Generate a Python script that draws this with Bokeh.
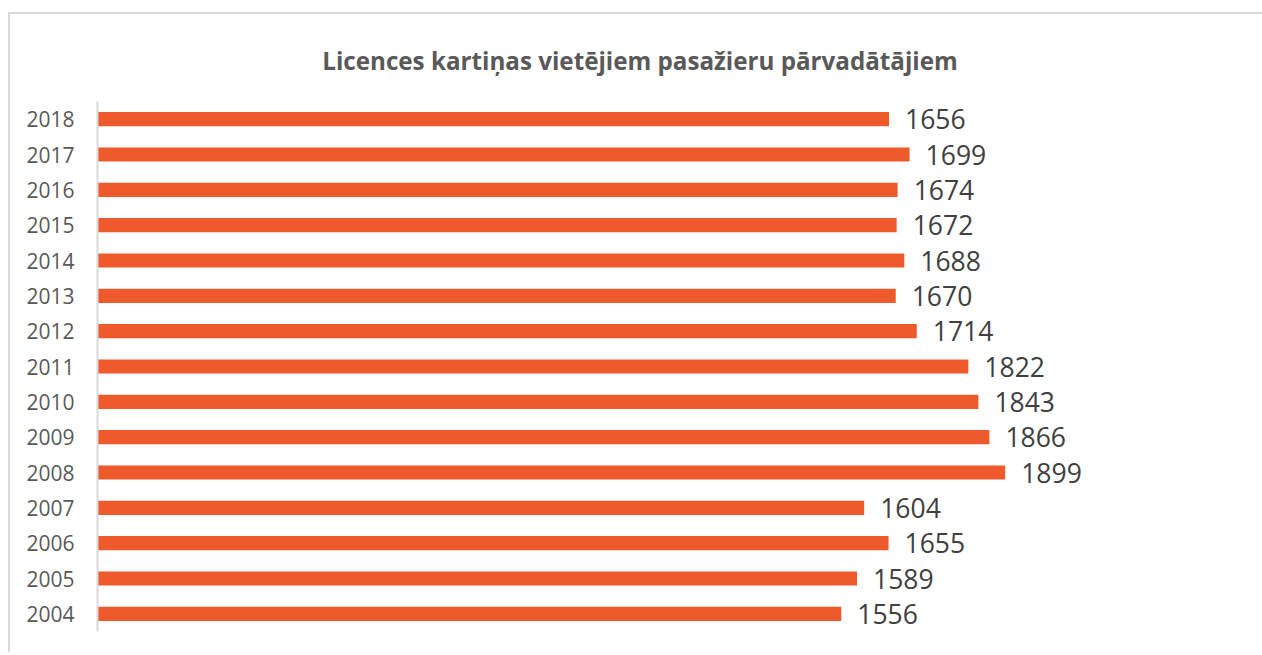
from bokeh.plotting import figure
from bokeh.models import FactorRange, Range1d, ColumnDataSource
from bokeh.core.properties import value
from bokeh.embed import file_html
from bokeh.resources import INLINE

title_text = "Licences kartiņas vietējiem pasažieru pārvadātājiem"
years = ["2004", "2005", "2006", "2007", "2008", "2009", "2010", "2011",
         "2012", "2013", "2014", "2015", "2016", "2017", "2018"]
counts = [1556, 1589, 1655, 1604, 1899, 1866, 1843, 1822,
          1714, 1670, 1688, 1672, 1674, 1699, 1656]

src = ColumnDataSource(dict(year=years, count=counts, label=[str(c) for c in counts]))

p = figure(
    width=1254, height=640,
    y_range=FactorRange(*years, range_padding=0),
    x_range=Range1d(0, 2270),
    output_backend="svg", toolbar_location=None,
    x_axis_location=None,
    min_border_left=89, min_border_right=80, min_border_top=89, min_border_bottom=21,
    title=title_text,
)
p.styles = {"box-shadow": "inset 2px 2px 0 0 #d9d9d9", "background-color": "white",
            "margin-top": "12px", "margin-left": "8px"}
p.border_fill_color = None
p.background_fill_color = None
p.outline_line_color = None
p.grid.visible = False

p.title.align = "center"
p.title.text_font = "Open Sans"
p.title.text_font_style = "bold"
p.title.text_font_size = "24.2px"
p.title.text_color = "#595959"
p.title.standoff = 50

ax = p.yaxis[0]
ax.axis_line_color = "#d9d9d9"
ax.axis_line_width = 2
ax.major_tick_line_color = None
ax.minor_tick_line_color = None
ax.major_tick_out = 0
ax.major_label_standoff = 23
ax.major_label_text_font = "Open Sans"
ax.major_label_text_font_size = "21px"
ax.major_label_text_color = "#595959"

p.hbar(y="year", right="count", left=0, height=0.4, source=src,
       fill_color="#EF5A2C", line_color=None)

p.text(x="count", y="year", text="label", source=src, x_offset=16,
       text_align="left", text_baseline="middle",
       text_font=value("Open Sans"), text_font_size="26.5px", text_color="#404040")

open("out.html", "w").write(file_html(p, INLINE))
